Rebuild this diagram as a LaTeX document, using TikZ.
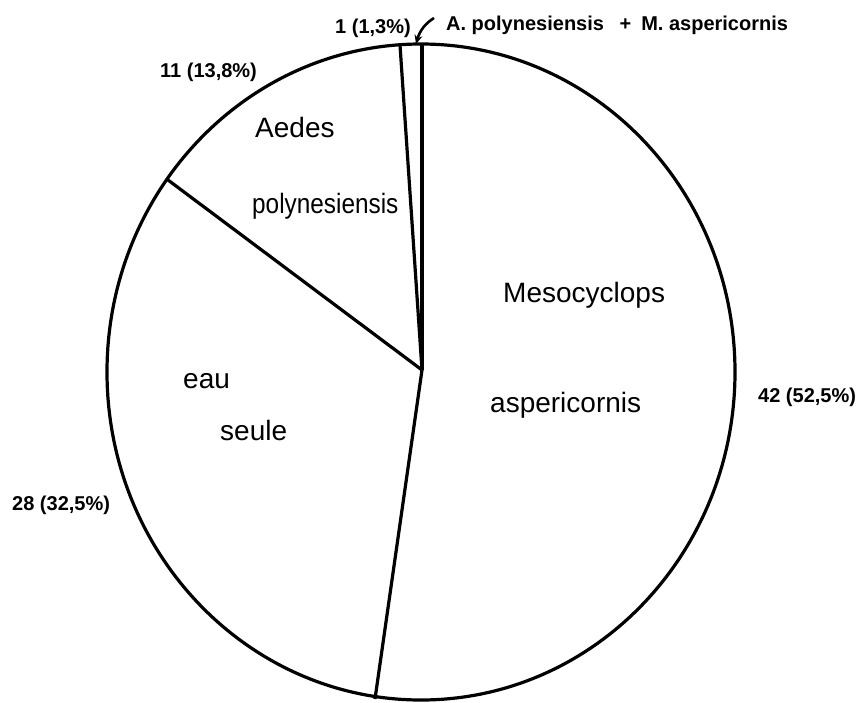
\documentclass[tikz,border=0pt]{standalone}
\usepackage{fontspec}
\usepackage{graphicx}
\setmainfont{Liberation Sans}
\usetikzlibrary{arrows.meta}
\begin{document}
\begin{tikzpicture}[x=1pt,y=-1pt,
  pieline/.style={line width=3.2pt, line join=round},
  big/.style={anchor=base west, inner sep=0pt, font=\fontsize{28}{30}\selectfont},
  small/.style={anchor=base west, inner sep=0pt, font=\fontsize{20}{22}\selectfont\bfseries}]
\useasboundingbox (0,0) rectangle (860,702);
\coordinate (c) at (422,370);
\coordinate (top) at (422,44);
\coordinate (t2) at (400,45);
\coordinate (left) at (168,180);
\coordinate (bot) at (375,699);
\draw[pieline] (421,372) ellipse [x radius=314, y radius=328];
\draw[pieline] (c) -- (top);
\draw[pieline] (c) -- (t2);
\draw[pieline] (c) -- (left);
\draw[pieline] (c) -- (bot);
% labels
\node[small] (l1) at (335,33) {1 (1,3\%)};
\node[small] (l1b) at (446,30) {A. polynesiensis \enspace+\enspace M. aspericornis};
\coordinate (arrs) at (434,18);
\coordinate (arre) at (416,44);
\draw[line width=2.6pt, -{Stealth[length=9pt,width=8pt]}] (arrs) .. controls (426,23) and (420,30) .. (arre);
\node[small] (l11) at (160,77) {11 (13,8\%)};
\node[small] (l28) at (12,510) {28 (32,5\%)};
\node[small] (l42) at (758,402) {42 (52,5\%)};
\node[big] (aedes) at (255,137) {Aedes};
\node[big] (poly) at (252,213) {\scalebox{0.87}[1]{polynesiensis}};
\node[big] (eau) at (183,388) {eau};
\node[big] (seule) at (220,440) {seule};
\node[big] (meso) at (503,302) {Mesocyclops};
\node[big] (asp) at (490,412) {aspericornis};
\end{tikzpicture}
\end{document}
